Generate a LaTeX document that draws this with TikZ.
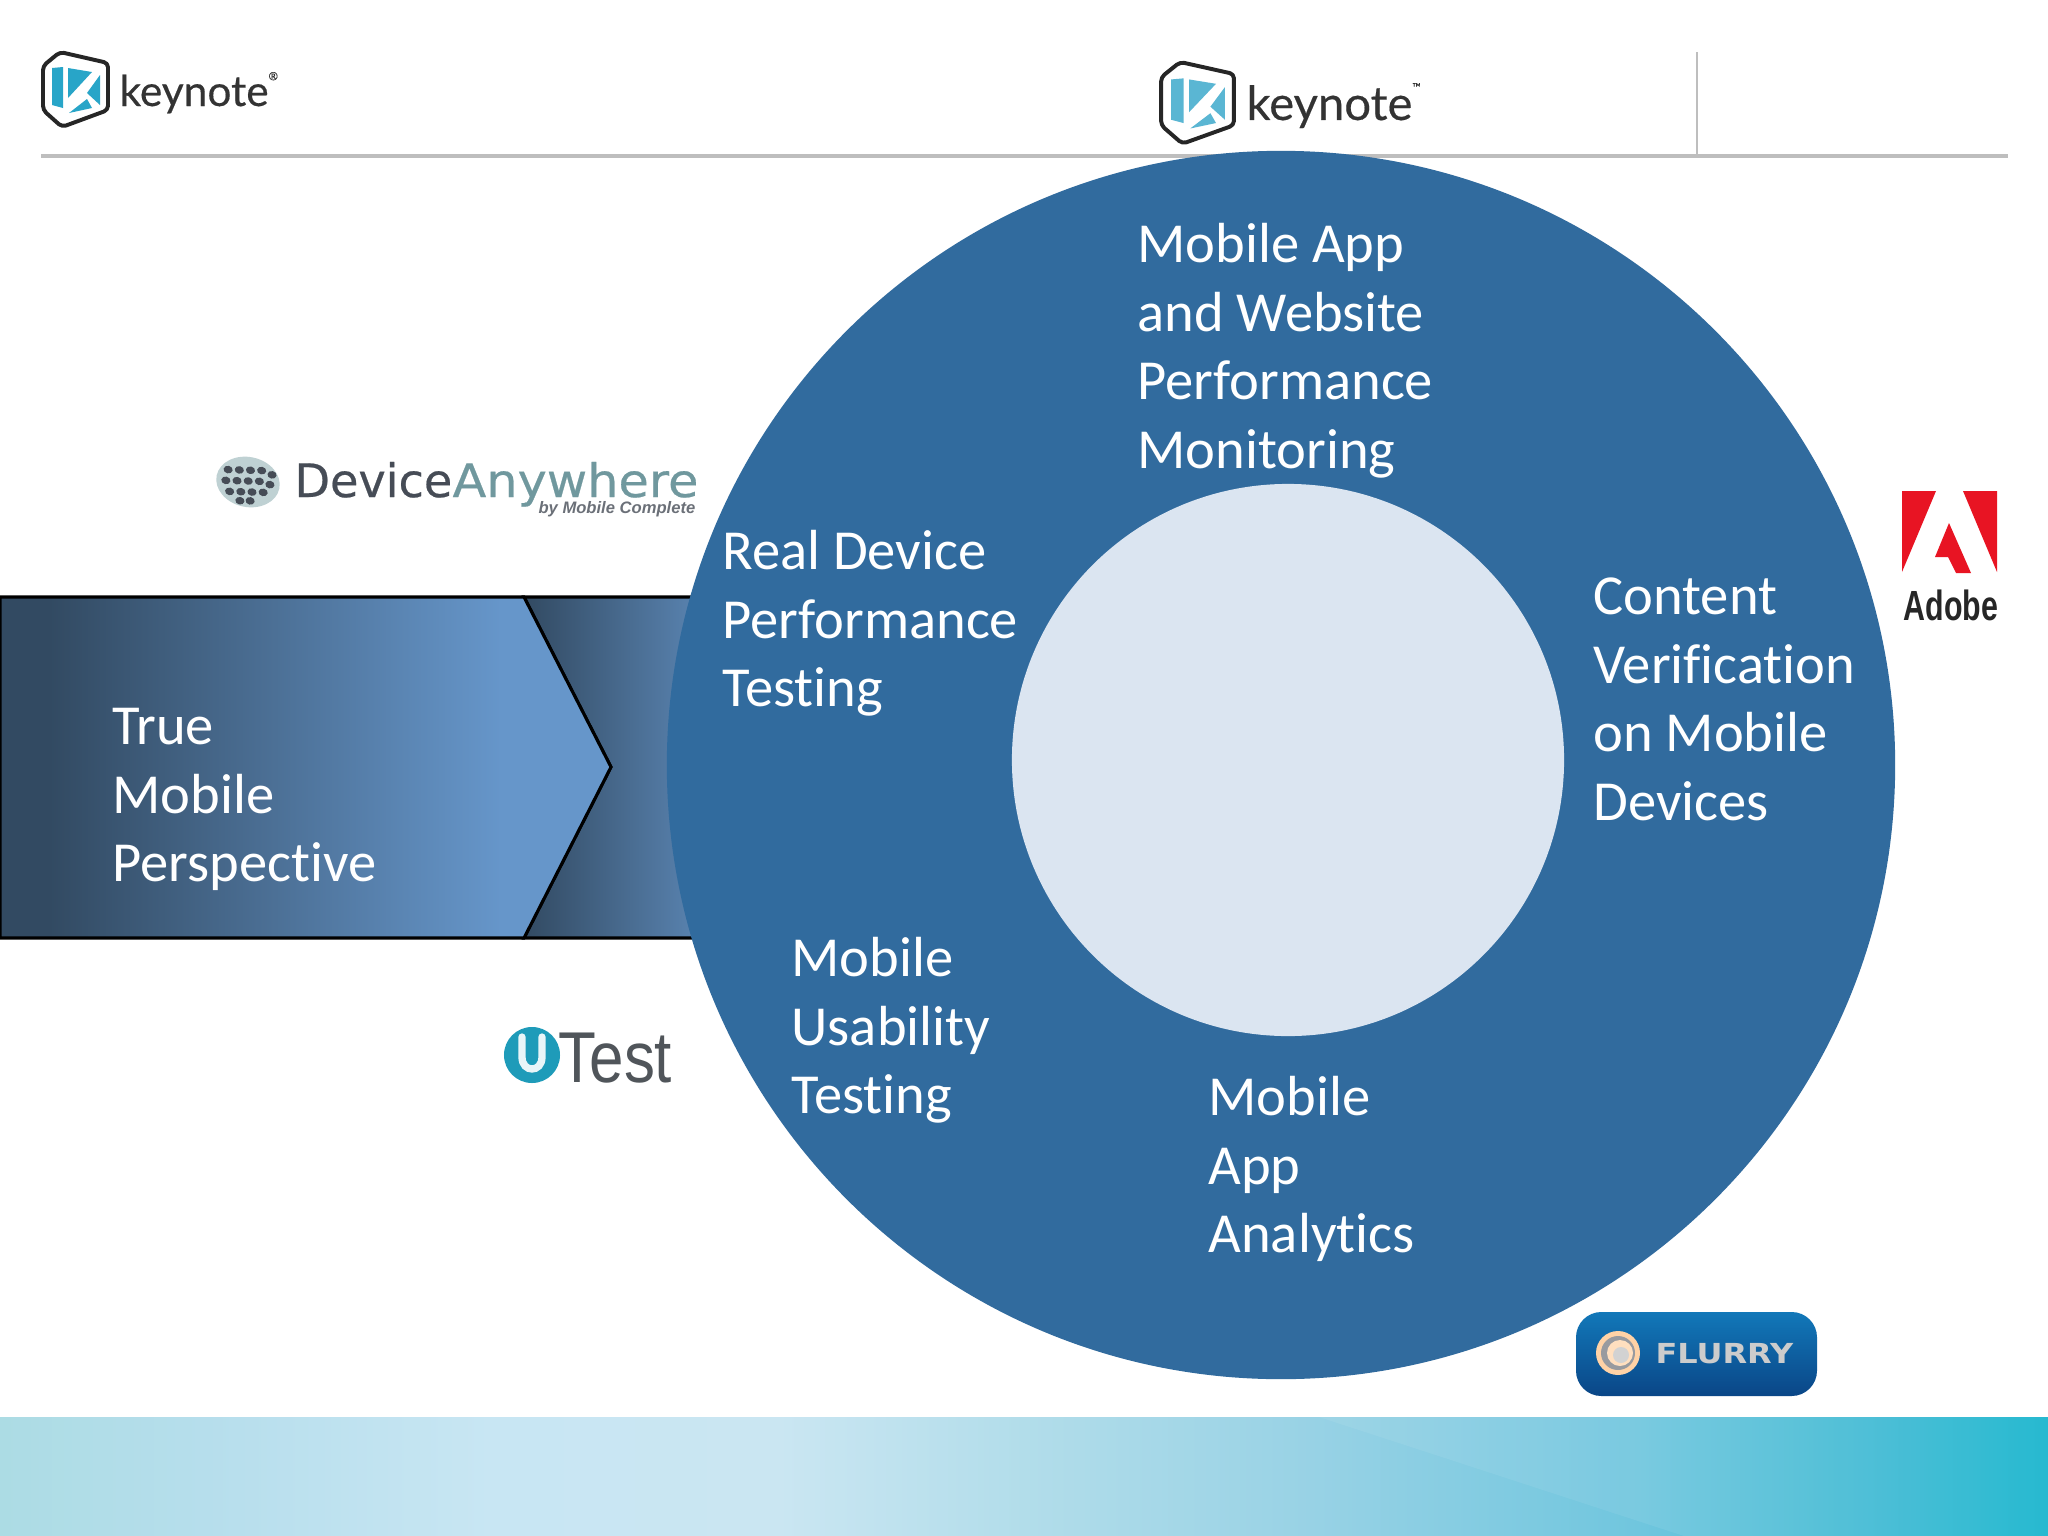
\documentclass[tikz,border=0pt]{standalone}
\usepackage{fontspec}
\usepackage{graphicx}
\setmainfont[Ligatures=NoCommon]{Carlito}
\newfontfamily\lat[FakeBold=0.35]{Lato}
\newfontfamily\dej[FakeBold=0.5]{DejaVu Sans}
\newfontfamily\dejb{DejaVu Sans}
\newfontfamily\lib{Liberation Sans}
\definecolor{ringblue}{RGB}{49,107,158}
\definecolor{holepale}{RGB}{219,229,241}
\definecolor{arrowdark}{RGB}{50,74,98}
\definecolor{arrowlight}{RGB}{102,150,202}
\definecolor{headgray}{RGB}{190,190,190}
\definecolor{adobered}{RGB}{232,20,35}
\definecolor{keyteal}{RGB}{40,165,200}
\definecolor{keypale}{RGB}{130,195,220}
\definecolor{devdark}{RGB}{70,76,86}
\definecolor{devteal}{RGB}{112,152,158}
\definecolor{utealc}{RGB}{30,155,185}
\definecolor{flurrya}{RGB}{18,120,185}
\definecolor{flurryb}{RGB}{10,70,135}
\definecolor{testgray}{RGB}{80,85,90}
\definecolor{banda}{RGB}{172,220,228}
\definecolor{bandb}{RGB}{182,222,236}
\definecolor{bandc}{RGB}{200,230,243}
\definecolor{bandd}{RGB}{202,230,242}
\definecolor{bande}{RGB}{178,221,234}
\definecolor{bandf}{RGB}{152,210,229}
\definecolor{bandg}{RGB}{112,198,222}
\definecolor{bandh}{RGB}{62,186,211}
\definecolor{bandi}{RGB}{22,180,205}
\pgfdeclarehorizontalshading{bandshade}{100bp}{
 color(0bp)=(banda);
 color(25bp)=(banda);
 color(30bp)=(bandb);
 color(37bp)=(bandc);
 color(44bp)=(bandd);
 color(50bp)=(bande);
 color(57bp)=(bandf);
 color(65bp)=(bandg);
 color(71bp)=(bandh);
 color(75bp)=(bandi);
 color(100bp)=(bandi)}
\pgfdeclarehorizontalshading{frontshade}{100bp}{
 color(0bp)=(arrowdark);
 color(29bp)=(arrowdark);
 color(66bp)=(arrowlight);
 color(100bp)=(arrowlight)}
\tikzset{
 label text/.style={anchor=north west,inner sep=0pt,text=white,align=left,
   font=\fontsize{20.1pt}{24.35pt}\selectfont},
 logo base/.style={anchor=base west,inner sep=0pt},
 arrow edge/.style={draw=black,line width=1.1pt,line join=miter},
}
\newcommand{\fl}{\rule{0pt}{0.55cm}}
\newcommand{\keylogo}[5]{% x y xscale yscale fillcolor
 \begin{scope}[shift={(#1,#2)},xscale=#3,yscale=#4]
  \fill[#5] (10,16) -- (21,15) -- (21,56) -- (10,53) -- cycle;
  \fill[#5] (26,16) -- (50,20) -- (26,46) -- cycle;
  \fill[#5] (58,23) -- (58,53) -- (45,41) -- cycle;
  \fill[#5] (27,61) -- (45,47) -- (50,56) -- cycle;
  \draw[line width=1.4pt,color=black!85,rounded corners=1.5pt,line join=round]
   (18,0) -- (66,11) -- (66,58) -- (20,75) -- (1,58) -- (1,14) -- cycle;
 \end{scope}}
\begin{document}
\begin{tikzpicture}[x=0.0125cm,y=-0.0125cm]
\useasboundingbox (0,0) rectangle (2048,1536);
\fill[white] (0,0) rectangle (2048,1536);
% bottom band
\shade[shading=bandshade] (0,1417) rectangle (2048,1536);
\fill[white,opacity=.07] (1319,1417) -- (1684,1536) -- (2048,1536) -- (2048,1417) -- cycle;
% header
\draw[headgray,line width=1.5pt] (41,156) -- (2008,156);
\draw[headgray,line width=.5pt] (1697,52) -- (1697,156);
% arrows
\path[arrow edge,left color=arrowdark,right color=arrowlight!92!black]
  (524,597) -- (720,597) -- (720,938) -- (524,938) -- (611,767) -- cycle;
\path[arrow edge,shading=frontshade,shade]
  (0,597) -- (524,597) -- (611,767) -- (524,938) -- (0,938) -- cycle;
% ring
\node[circle,fill=ringblue,minimum size=15.35cm,inner sep=0pt] (ring) at (1281,765) {};
\node[circle,fill=holepale,minimum size=6.9cm,inner sep=0pt] (hole) at (1288,760) {};
% labels
\node[label text] (perf) at (1137,218) {\fl Mobile App\\and Website\\Performance\\Monitoring};
\node[label text] (real) at (722,525) {\fl Real Device\\Performance\\Testing};
\node[label text] (true) at (112,700) {\fl True\\Mobile\\Perspective};
\node[label text] (cont) at (1593,570) {\fl Content\\Verification\\on Mobile\\Devices};
\node[label text] (usab) at (791,932) {\fl Mobile\\Usability\\Testing};
\node[label text] (anal) at (1208,1071) {\fl Mobile\\App\\Analytics};
% keynote logos
\keylogo{42}{52}{1}{1}{keyteal}
\node[logo base,text=black!80,font=\lat\fontsize{15.1pt}{16pt}\selectfont] (key1) at (119,106) {keynote\raisebox{1.2ex}{\fontsize{4pt}{4pt}\selectfont ®}};
\keylogo{1160}{62}{1.12}{1.09}{keypale!55!keyteal}
\node[logo base,text=black!80,font=\lat\fontsize{16.8pt}{18pt}\selectfont] (key2) at (1246,120) {keynote\raisebox{1.2ex}{\fontsize{4pt}{4pt}\selectfont ™}};
% device anywhere
\begin{scope}[shift={(248,482)},rotate=-12]
 \fill[devteal!45] (0,0) ellipse (32 and 25);
 \foreach \px/\py in {-22/-8,-11/-10,0/-12,11/-14,22/-12,-22/3,-11/1,0/-1,11/-3,22/-2,-16/13,-5/11,6/9,17/7,-4/20,6/18}
   \fill[devdark] (\px,\py) ellipse (4.6 and 3.8);
\end{scope}
\node[logo base,text=devdark,font=\dej\fontsize{16.4pt}{17pt}\selectfont] (dev) at (294,497) {Device};
\node[logo base,text=devteal,font=\dej\fontsize{16.4pt}{17pt}\selectfont] (any) at (452,497) {\scalebox{1.07}[1]{Anywhere}};
\node[logo base,text=devdark!80,font=\lib\bfseries\itshape\fontsize{5.9pt}{6pt}\selectfont] (mobc) at (538,513) {by Mobile Complete};
% uTest
\node[circle,fill=utealc,minimum size=.7cm,inner sep=0pt] (uc) at (532,1055) {};
\draw[white!90!utealc,line width=2.6pt,line cap=round] (522,1037) -- (522,1057) .. controls (522,1073) and (542,1073) .. (542,1057) -- (542,1037);
\node[logo base,text=testgray,font=\lib\fontsize{25.6pt}{26pt}\selectfont] (utest) at (558,1082) {\scalebox{0.86}[1]{Test}};
% adobe
\fill[adobered] (1902,491) -- (1936,491) -- (1902,572) -- cycle;
\fill[adobered] (1963,491) -- (1997,491) -- (1997,572) -- cycle;
\fill[adobered] (1949,523) -- (1971,573) -- (1956,573) -- (1948,557) -- (1935,557) -- cycle;
\node[logo base,text=black!85,font=\lib\bfseries\fontsize{15pt}{16pt}\selectfont] (adobe) at (1903,620) {\scalebox{0.72}[1]{Adobe}};
% flurry
\shade[top color=flurrya,bottom color=flurryb,rounded corners=9pt] (1576,1312) rectangle (1817,1396);
\fill[orange!35!white] (1618,1353) circle (22);
\fill[flurryb!70!orange!60] (1618,1353) circle (17);
\fill[orange!25!white] (1620,1353) circle (13);
\fill[gray!35] (1621,1355) circle (8);
\node[logo base,text=black!20,font=\dejb\bfseries\fontsize{9.8pt}{10pt}\selectfont] (flurry) at (1655,1363) {\scalebox{1.16}[1]{FLURRY}};
\end{tikzpicture}
\end{document}
